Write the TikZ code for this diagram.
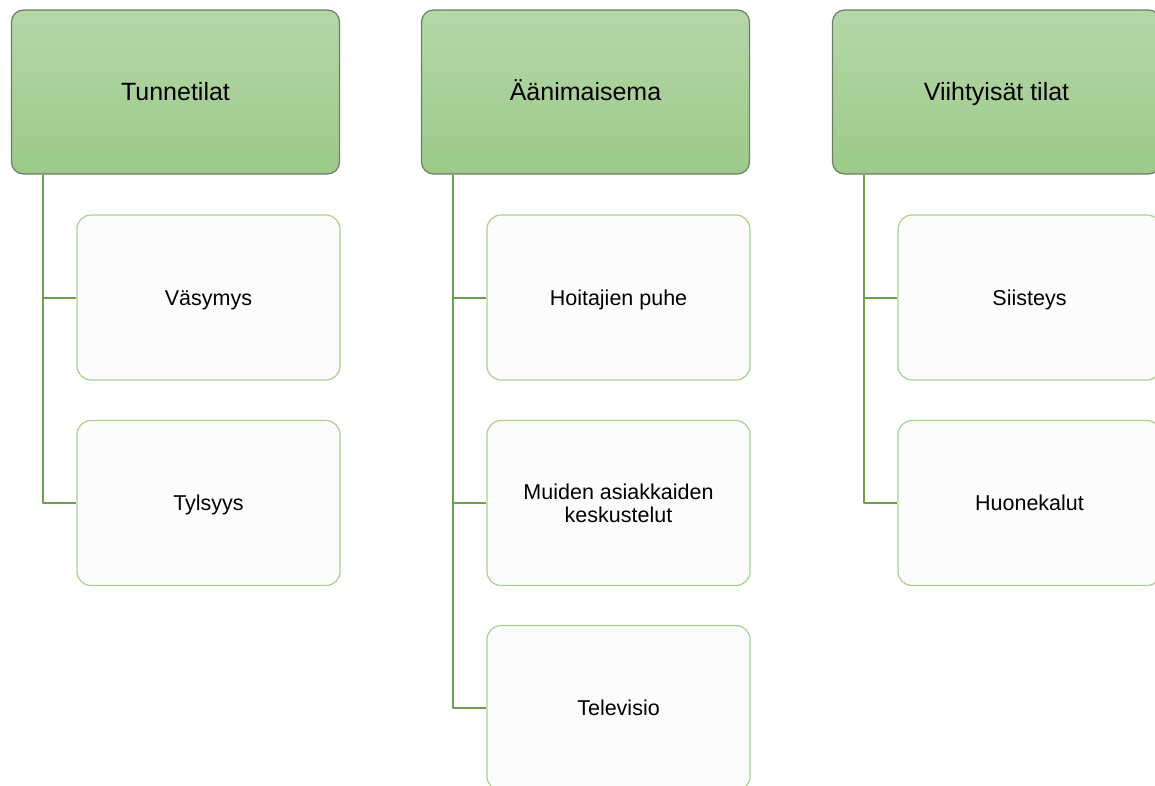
\documentclass[tikz,border=0pt]{standalone}
\usepackage{fontspec}
\setmainfont{Liberation Sans}
\definecolor{headtop}{HTML}{B6D7A8}
\definecolor{headbot}{HTML}{9CC98A}
\definecolor{headline}{HTML}{6B7D63}
\definecolor{itemline}{HTML}{A9D18E}
\definecolor{itemfill}{HTML}{FCFCFC}
\definecolor{linkgreen}{HTML}{6E9F4E}
\begin{document}
\begin{tikzpicture}[x=1pt, y=-1pt, line join=round,
	head/.style={draw=headline, line width=1.2pt, rounded corners=12pt, top color=headtop, bottom color=headbot,
		minimum width=328pt, minimum height=164pt, inner sep=0pt, text height=18pt, text depth=2pt,
		font=\fontsize{25}{30}\selectfont},
	item/.style={draw=itemline, line width=1.2pt, fill=itemfill, rounded corners=14pt, align=center,
		minimum width=263pt, minimum height=165pt, inner sep=0pt, font=\fontsize{21.5}{23}\selectfont},
	oneline/.style={text height=17.4pt, text depth=2pt},
	link/.style={draw=linkgreen, line width=2pt}]
	\def\xa{175} \def\xb{585} \def\xc{996} % Spalten
	\def\dx{33.5}
	\useasboundingbox (0,0) rectangle (1155,785);
	\clip (0,0) rectangle (1155,785);
	% Kopfzeilen
	\node[head] (tunne) at (\xa+0.5,92) {Tunnetilat};
	\node[head] (aani) at (\xb+0.5,92) {Äänimaisema};
	\node[head] (viiht) at (\xc+0.5,92) {Viihtyisät tilat};
	% Einträge
	\node[item, oneline] (vasy) at (\xa+\dx,297.5) {Väsymys};
	\node[item, oneline] (tyls) at (\xa+\dx,503) {Tylsyys};
	\node[item, oneline] (hoit) at (\xb+\dx,297.5) {Hoitajien puhe};
	\node[item] (muid) at (\xb+\dx,503) {Muiden asiakkaiden\\keskustelut};
	\node[item, oneline] (tele) at (\xb+\dx,708) {Televisio};
	\node[item, oneline] (siis) at (\xc+\dx,297.5) {Siisteys};
	\node[item, oneline] (huon) at (\xc+\dx,503) {Huonekalut};
	% Verbindungen
	\draw[link] ([xshift=32pt]tunne.south west) |- (vasy.west)
		([xshift=32pt]tunne.south west) |- (tyls.west);
	\draw[link] ([xshift=32pt]aani.south west) |- (hoit.west)
		([xshift=32pt]aani.south west) |- (muid.west)
		([xshift=32pt]aani.south west) |- (tele.west);
	\draw[link] ([xshift=32pt]viiht.south west) |- (siis.west)
		([xshift=32pt]viiht.south west) |- (huon.west);
\end{tikzpicture}
\end{document}
